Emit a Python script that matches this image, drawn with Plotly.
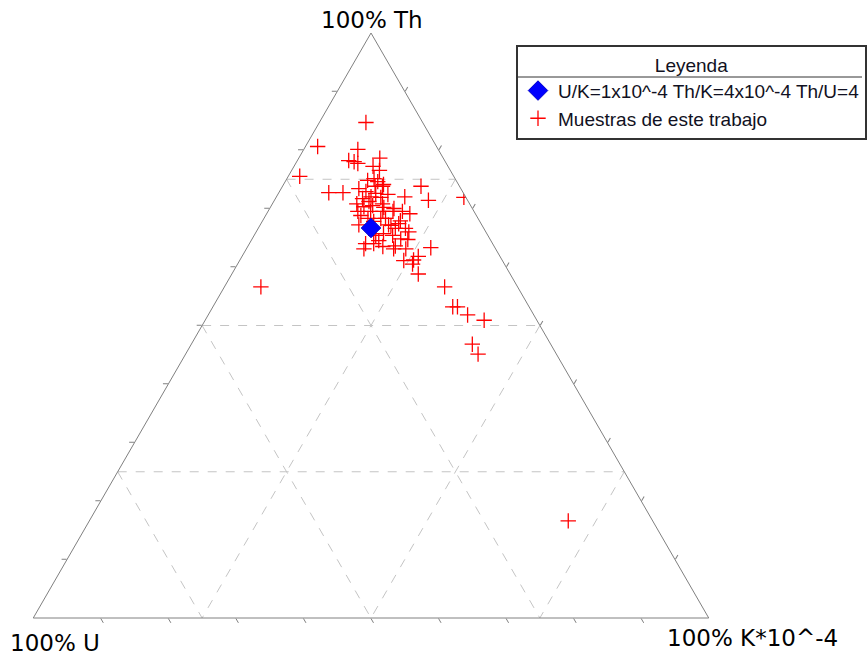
import plotly.graph_objects as go

# Samples (percent Th, U, K*10^-4)
th = [84.7, 80.6, 80.1, 78.2, 78.0, 77.7, 78.6, 77.2, 76.5, 75.5,
      74.8, 75.1, 74.6, 74.1, 73.8, 73.8, 72.7, 72.7, 73.4, 72.9,
      72.0, 72.6, 73.8, 71.9, 72.0, 71.4, 71.9, 71.7, 71.2, 70.8,
      70.2, 70.0, 70.3, 70.5, 69.5, 69.5, 69.1, 68.8, 68.3, 67.8,
      68.3, 69.5, 68.3, 67.9, 67.2, 67.2, 67.1, 66.6, 67.4, 66.6,
      66.0, 65.4, 65.7, 65.4, 64.8, 64.7, 64.5, 63.1, 64.0, 64.0,
      63.5, 63.1, 63.6, 63.1, 63.3, 61.1, 61.2, 61.8, 60.5, 58.8,
      56.6, 53.2, 53.2, 51.8, 50.9, 46.8, 45.1, 56.6, 16.6, 70.8,
      69.5, 69.5, 72.4]
u = [8.4, 17.6, 11.9, 14.2, 13.5, 13.1, 9.4, 11.1, 10.5, 22.8,
     13.1, 12.0, 11.7, 11.1, 12.5, 5.7, 19.9, 17.8, 15.1, 14.3,
     14.0, 13.0, 11.4, 12.6, 9.0, 5.8, 0.3, 15.4, 14.7, 12.9,
     13.0, 11.6, 15.9, 14.5, 12.0, 10.6, 9.7, 17.1, 16.3, 15.7,
     14.4, 13.5, 13.7, 11.7, 18.2, 13.8, 13.5, 13.1, 12.2, 11.6,
     11.4, 16.6, 15.3, 14.1, 13.2, 12.2, 16.6, 19.5, 18.8, 17.6,
     16.5, 15.1, 14.6, 13.3, 9.5, 14.6, 13.1, 12.1, 13.6, 13.6,
     10.8, 11.3, 10.6, 9.8, 7.8, 11.6, 11.6, 38.0, 12.5, 16.7,
     17.2, 15.3, 11.3]
k = [6.9, 1.8, 8.0, 7.6, 8.5, 9.2, 12.0, 11.7, 13.0, 1.7,
     12.1, 12.9, 13.7, 14.8, 13.7, 20.5, 7.4, 9.5, 11.5, 12.8,
     14.0, 14.4, 14.8, 15.5, 19.0, 22.8, 27.8, 12.9, 14.1, 16.3,
     16.8, 18.4, 13.8, 15.0, 18.5, 19.9, 21.2, 14.1, 15.4, 16.5,
     17.3, 17.0, 18.0, 20.4, 14.6, 19.0, 19.4, 20.3, 20.4, 21.8,
     22.6, 18.0, 19.0, 20.5, 22.0, 23.1, 18.9, 17.4, 17.2, 18.4,
     20.0, 21.8, 21.8, 23.6, 27.2, 24.3, 25.7, 26.1, 25.9, 27.6,
     32.6, 35.5, 36.2, 38.4, 41.3, 41.6, 43.3, 5.4, 70.9, 12.5,
     13.3, 15.2, 16.3]

# Reference ratio point: U/K=1e-4, Th/K=4e-4, Th/U=4
ref_th = [66.67]
ref_u = [16.67]
ref_k = [16.67]

grid_levels = [25, 50, 75]
tick_values = [10, 20, 30, 40, 50, 60, 70, 80, 90]

# dashed grid lines built from the grid levels
ga, gb, gc = [], [], []
for g in grid_levels:
    r = 100 - g
    ga += [g, g, None]; gb += [r, 0, None]; gc += [0, r, None]
    gb += [g, g, None]; ga += [r, 0, None]; gc += [0, r, None]
    gc += [g, g, None]; ga += [r, 0, None]; gb += [0, r, None]

fig = go.Figure()
fig.add_trace(go.Scatterternary(
    a=ga, b=gb, c=gc, mode='lines', showlegend=False, hoverinfo='skip',
    line=dict(color='#c4c4c4', width=1, dash='dash')))
fig.add_trace(go.Scatterternary(
    a=th, b=u, c=k, mode='markers', name='Muestras de este trabajo',
    legendrank=2,
    marker=dict(symbol='cross-thin', size=11, color='red',
                line=dict(color='red', width=1.3))))
fig.add_trace(go.Scatterternary(
    a=ref_th, b=ref_u, c=ref_k, mode='markers',
    name='U/K=1x10^-4 Th/K=4x10^-4 Th/U=4', legendrank=1,
    marker=dict(symbol='diamond', size=15, color='#0000ff',
                line=dict(color='#0000cc', width=1))))

axis = dict(showgrid=False, showticklabels=False, ticks='outside', ticklen=5,
            tickcolor='#808080', tickmode='array', tickvals=tick_values,
            linecolor='#808080', linewidth=1, title=dict(text=''), min=0)

legend_font = dict(family='Liberation Sans, Arial', size=19, color='#111122')
label_font = dict(family='DejaVu Sans', size=23, color='black')

fig.update_layout(
    width=867, height=660, autosize=False,
    margin=dict(l=0, r=0, t=0, b=0),
    paper_bgcolor='white', plot_bgcolor='white',
    ternary=dict(sum=100, bgcolor='white',
                 domain=dict(x=[33/867, 709/867], y=[42/660, 627/660]),
                 aaxis=axis, baxis=axis, caxis=axis),
    legend=dict(x=516/867, y=615/660, xanchor='left', yanchor='top',
                bgcolor='rgba(255,255,255,0)', bordercolor='#333333', borderwidth=2,
                font=legend_font,
                title=dict(text='Leyenda', side='top center', font=legend_font),
                itemsizing='trace'),
    annotations=[
        dict(text='100% Th', x=372/867, y=(660-20)/660, xref='paper', yref='paper',
             showarrow=False, xanchor='center', yanchor='middle', font=label_font),
        dict(text='100% U', x=55/867, y=(660-643)/660, xref='paper', yref='paper',
             showarrow=False, xanchor='center', yanchor='middle', font=label_font),
        dict(text='100% K*10^-4', x=752/867, y=(660-638)/660, xref='paper', yref='paper',
             showarrow=False, xanchor='center', yanchor='middle', font=label_font),
    ],
    shapes=[dict(type='line', xref='paper', yref='paper',
                 x0=517/867, x1=862/867, y0=(660-77)/660, y1=(660-77)/660,
                 line=dict(color='#333333', width=1))],
)

fig.write_html('out.html', config={'displayModeBar': False},
               post_script="document.body.style.margin='0';document.body.style.overflow='hidden';")
